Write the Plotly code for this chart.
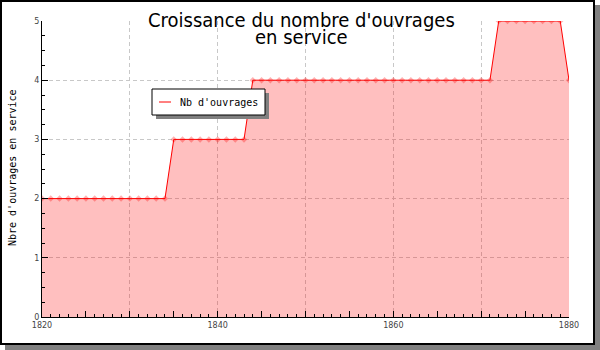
import plotly.graph_objects as go

# ---- data ----
years = list(range(1820, 1881))
nb_ouvrages = [
    2, 2, 2, 2, 2, 2, 2, 2, 2, 2, 2, 2, 2, 2, 2,       # 1820-1834
    3, 3, 3, 3, 3, 3, 3, 3, 3,                          # 1835-1843
    4, 4, 4, 4, 4, 4, 4, 4, 4, 4, 4, 4, 4, 4,           # 1844-1857
    4, 4, 4, 4, 4, 4, 4, 4, 4, 4, 4, 4, 4, 4,           # 1858-1871
    5, 5, 5, 5, 5, 5, 5, 5,                             # 1872-1879
    4,                                                  # 1880
]
x_label_years = [1820, 1840, 1860, 1880]
x_tick_years = list(range(1820, 1881, 5))
x_grid_years = list(range(1830, 1881, 10))
y_ticks = [0, 1, 2, 3, 4, 5]
title_lines = ["Croissance du nombre d'ouvrages", "en service"]
y_title = "Nbre d'ouvrages en service"
series_name = "Nb d'ouvrages"

# ---- geometry helpers (pixel -> paper) ----
W, H = 600, 350
ML, MR, MT, MB = 42, 31, 21, 33
PW, PH = W - ML - MR, H - MT - MB


def px(x):
    return (x - ML) / PW


def py(y):
    return (H - MB - y) / PH


GRID = "#c8c8c8"
DASH = "4px,3px"

fig = go.Figure()
fig.add_trace(go.Scatter(
    x=years, y=nb_ouvrages, name=series_name,
    mode="lines+markers",
    line=dict(color="#ff0000", width=1),
    marker=dict(symbol="diamond", size=5, color="rgba(255,0,0,0.3)",
                line=dict(width=0)),
    fill="tozeroy", fillcolor="rgba(255,0,0,0.25)",
    showlegend=False, hoverinfo="x+y",
))
# helper trace for the grid overlay axis
fig.add_trace(go.Scatter(x=[years[0], years[-1]], y=[0, 0], xaxis="x2",
                         mode="lines", line=dict(width=0), showlegend=False,
                         hoverinfo="skip"))

tick_font = dict(family="DejaVu Sans", size=8, color="#444")

fig.update_layout(
    width=W, height=H,
    margin=dict(l=ML, r=MR, t=MT, b=MB, pad=0),
    paper_bgcolor="white",
    plot_bgcolor="rgba(0,0,0,0)",
    showlegend=False,
    xaxis=dict(
        range=[years[0], years[-1]],
        tickmode="array", tickvals=x_tick_years,
        ticktext=[str(v) if v in x_label_years else "" for v in x_tick_years],
        ticks="inside", ticklen=6, tickcolor="black", tickwidth=1,
        minor=dict(dtick=1, ticks="inside", ticklen=3, tickcolor="black",
                   showgrid=False),
        showgrid=False, zeroline=False,
        showline=True, linecolor="black", linewidth=1,
        tickfont=tick_font,
    ),
    xaxis2=dict(
        overlaying="x", matches="x", range=[years[0], years[-1]],
        tickmode="array", tickvals=x_grid_years,
        showticklabels=False, ticks="",
        showgrid=True, gridcolor=GRID, griddash=DASH, gridwidth=1,
        zeroline=False, showline=False, side="bottom", anchor="y",
    ),
    yaxis=dict(
        range=[0, 5],
        tickmode="array", tickvals=y_ticks,
        ticks="inside", ticklen=6, tickcolor="black", tickwidth=1,
        minor=dict(dtick=0.25, ticks="inside", ticklen=3, tickcolor="black",
                   showgrid=False),
        showgrid=True, gridcolor=GRID, griddash=DASH, gridwidth=1,
        zeroline=False,
        showline=True, linecolor="black", linewidth=1,
        tickfont=tick_font,
    ),
)

shapes = []
# outer frame shadow
shapes.append(dict(type="rect", xref="paper", yref="paper",
                   x0=px(594), x1=px(600), y0=py(5), y1=py(350),
                   fillcolor="#808080", line=dict(width=0), layer="above"))
shapes.append(dict(type="rect", xref="paper", yref="paper",
                   x0=px(5), x1=px(600), y0=py(344), y1=py(350),
                   fillcolor="#808080", line=dict(width=0), layer="above"))
# outer frame
shapes.append(dict(type="rect", xref="paper", yref="paper",
                   x0=px(1), x1=px(594), y0=py(1), y1=py(344),
                   line=dict(color="black", width=2), layer="above"))
# legend shadow and box
shapes.append(dict(type="rect", xref="paper", yref="paper",
                   x0=px(156), x1=px(269), y0=py(93), y1=py(119),
                   fillcolor="#808080", line=dict(width=0), layer="above"))
shapes.append(dict(type="rect", xref="paper", yref="paper",
                   x0=px(152), x1=px(265), y0=py(89), y1=py(115),
                   fillcolor="white", line=dict(color="black", width=1),
                   layer="above"))
# legend symbol line
shapes.append(dict(type="line", xref="paper", yref="paper",
                   x0=px(159), x1=px(171), y0=py(102), y1=py(102),
                   line=dict(color="#ff0000", width=1), layer="above"))
fig.update_layout(shapes=shapes)

# title (two lines with tight spacing)
title_font = dict(family="DejaVu Sans Condensed, DejaVu Sans", size=20,
                  color="black")
for line_text, yc in zip(title_lines, [20, 37]):
    fig.add_annotation(text=line_text, xref="paper", yref="paper",
                       x=px(301), y=py(yc), xanchor="center",
                       yanchor="middle", showarrow=False, font=title_font)

fig.add_annotation(text=series_name, xref="paper", yref="paper",
                   x=px(178), y=py(102), xanchor="left", yanchor="middle",
                   showarrow=False,
                   font=dict(family="DejaVu Sans Mono", size=10, color="black"))
fig.add_annotation(text=y_title, xref="paper", yref="paper",
                   x=px(12), y=py(168), xanchor="center", yanchor="middle",
                   textangle=-90, showarrow=False,
                   font=dict(family="DejaVu Sans Mono", size=10, color="black"))

fig.write_html("out.html")
